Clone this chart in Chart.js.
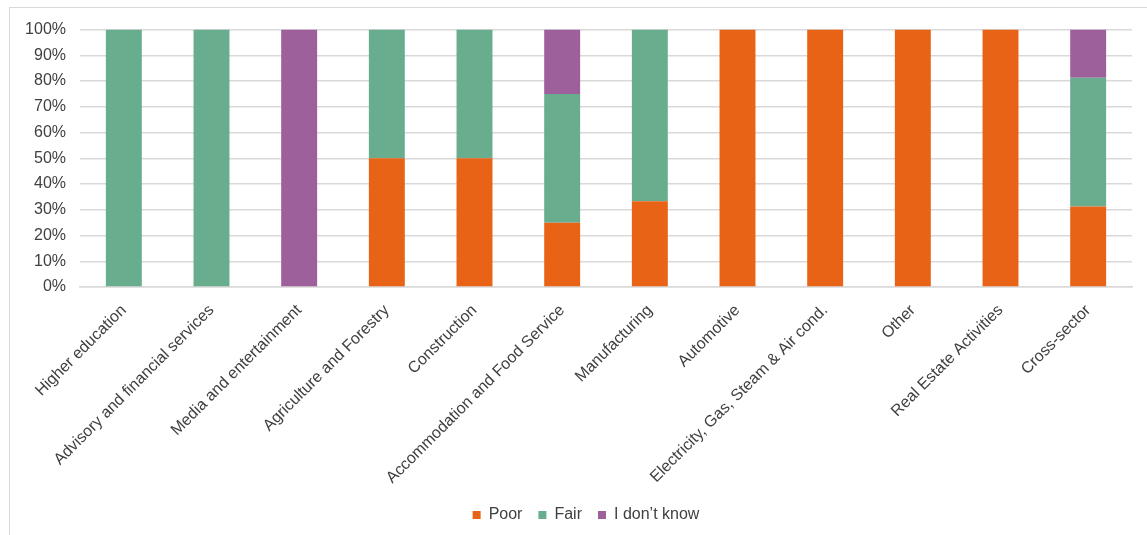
<!DOCTYPE html>
<html>
<head>
<meta charset="utf-8">
<script src="https://cdn.jsdelivr.net/npm/chart.js@4"></script>
<style>
  html, body { margin: 0; padding: 0; background: #fff; overflow: hidden; }
  .frame {
    position: absolute; left: 9px; top: 7px;
    width: 1170px; height: 540px;
    border-left: 1px solid #d9d9d9; border-top: 1px solid #d9d9d9;
  }
  .chart-box { position: absolute; left: 0; top: -2px; width: 1153px; height: 530px; }
</style>
</head>
<body>
<div class="frame">
  <div class="chart-box"><canvas id="sectors"></canvas></div>
</div>
<script>
const sectors = [
  'Higher education',
  'Advisory and financial services',
  'Media and entertainment',
  'Agriculture and Forestry',
  'Construction',
  'Accommodation and Food Service',
  'Manufacturing',
  'Automotive',
  'Electricity, Gas, Steam & Air cond.',
  'Other',
  'Real Estate Activities',
  'Cross-sector',
];

// share of answers per sector, in percent
const poor = [0, 0, 0, 50, 50, 25, 33.3, 100, 100, 100, 100, 31.25];
const fair = [100, 100, 0, 50, 50, 50, 66.7, 0, 0, 0, 0, 50];
const dontKnow = [0, 0, 100, 0, 0, 25, 0, 0, 0, 0, 0, 18.75];

const yTicks = [0, 10, 20, 30, 40, 50, 60, 70, 80, 90, 100];

const textColor = '#404040';
const gridColor = '#d9d9d9';
const fontFamily = '"Liberation Sans", Arial, sans-serif';

Chart.defaults.font.family = fontFamily;
Chart.defaults.font.size = 16;
Chart.defaults.color = textColor;

const makeSet = (label, data, color) => ({
  label,
  data,
  backgroundColor: color,
  borderWidth: 0,
  categoryPercentage: 1,
  barPercentage: 0.41,
});

// the frame runs on past the right edge, so centre the legend on the whole frame
const legendShift = {
  id: 'legendShift',
  afterLayout(chart) {
    chart.legend.left += 15;
    chart.legend.right += 15;
  },
};

new Chart(document.getElementById('sectors'), {
  type: 'bar',
  data: {
    labels: sectors,
    datasets: [
      makeSet('Poor', poor, '#e96316'),
      makeSet('Fair', fair, '#69ad8f'),
      makeSet('I don\u2019t know', dontKnow, '#9e609b'),
    ],
  },
  plugins: [legendShift],
  options: {
    responsive: true,
    maintainAspectRatio: false,
    animation: false,
    layout: { padding: { top: 6, right: 31, bottom: 3, left: 0 } },
    plugins: {
      tooltip: { enabled: false },
      legend: {
        position: 'bottom',
        labels: {
          boxWidth: 8,
          boxHeight: 8,
          padding: 16,
          font: { size: 16 },
          color: textColor,
        },
      },
    },
    scales: {
      x: {
        stacked: true,
        grid: { display: false, drawTicks: false },
        border: { color: gridColor, width: 1.5 },
        ticks: { minRotation: 45, maxRotation: 45, autoSkip: false, padding: 14 },
        afterFit: (scale) => { scale.height = 204; },
      },
      y: {
        stacked: true,
        min: 0,
        max: 100,
        afterBuildTicks: (scale) => { scale.ticks = yTicks.map(v => ({ value: v })); },
        afterFit: (scale) => { scale.width = 70; },
        grid: { color: gridColor, lineWidth: 1.5, drawTicks: false },
        border: { display: false },
        ticks: { padding: 14, callback: (v) => v + '%' },
      },
    },
  },
});
</script>
</body>
</html>
